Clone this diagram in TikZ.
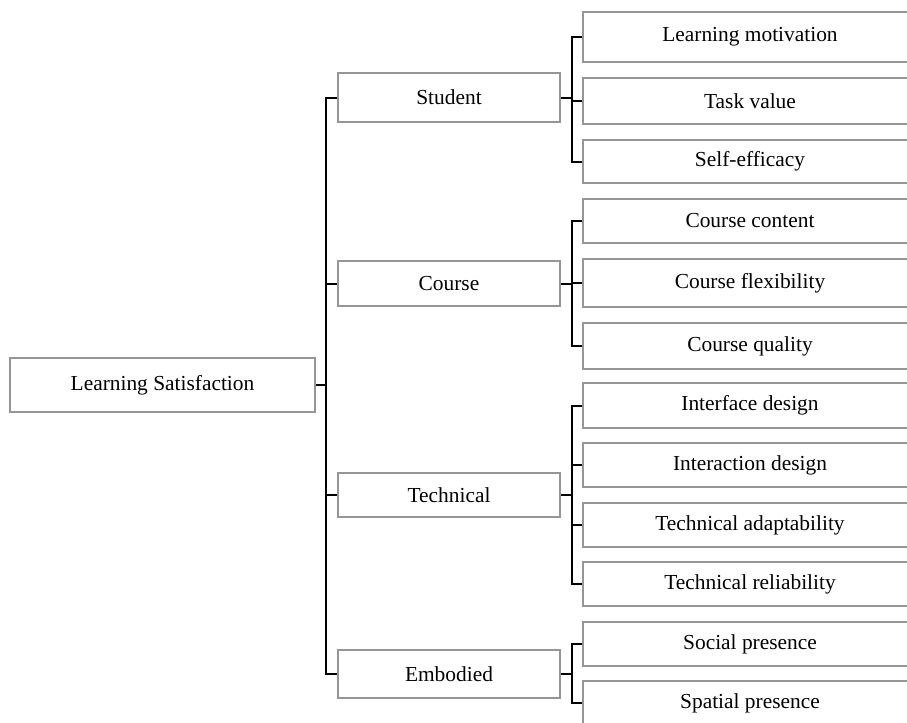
\documentclass[tikz,border=0pt]{standalone}
\usepackage{fontspec}
\setmainfont{Liberation Serif}
\definecolor{boxgray}{RGB}{150,150,150}
\begin{document}
\begin{tikzpicture}[x=0.5pt,y=-0.5pt,
  box/.style={draw=boxgray, line width=0.75pt, inner sep=0pt, align=center,
    font=\fontsize{10.7pt}{13pt}\selectfont},
  rootbox/.style={box, minimum width=152.5pt, minimum height=27pt},
  midbox/.style={box, minimum width=111pt},
  leafbox/.style={box, minimum width=167pt},
  conn/.style={draw=black, line width=1pt}]
\path[use as bounding box, clip] (0,0) rectangle (907,723);
\fill[white] (0,0) rectangle (907,723);

\node[rootbox] (root) at (162.5,385) {Learning Satisfaction};

\node[midbox, minimum height=24.5pt] (student) at (449,97.5) {Student};
\node[midbox, minimum height=22.5pt] (course) at (449,283.5) {Course};
\node[midbox, minimum height=22pt] (technical) at (449,495) {Technical};
\node[midbox, minimum height=24pt] (embodied) at (449,674) {Embodied};

\node[leafbox, minimum height=25pt] (lm) at (750,37) {Learning motivation};
\node[leafbox, minimum height=23pt] (tv) at (750,101) {Task value};
\node[leafbox, minimum height=21.5pt] (se) at (750,161.5) {Self-efficacy};
\node[leafbox, minimum height=22pt] (cc) at (750,221) {Course content};
\node[leafbox, minimum height=24pt] (cf) at (750,283) {Course flexibility};
\node[leafbox, minimum height=23pt] (cq) at (750,346) {Course quality};
\node[leafbox, minimum height=22.5pt] (idd) at (750,405.5) {Interface design};
\node[leafbox, minimum height=22pt] (ixd) at (750,465) {Interaction design};
\node[leafbox, minimum height=22pt] (ta) at (750,525) {Technical adaptability};
\node[leafbox, minimum height=22pt] (tr) at (750,584) {Technical reliability};
\node[leafbox, minimum height=22pt] (sop) at (750,644) {Social presence};
\node[leafbox, minimum height=22pt] (spp) at (750,703) {Spatial presence};

\coordinate (t) at (326,0);
\coordinate (s) at (572,0);

% main trunk
\draw[conn] (root.east) -- (root.east -| t);
\draw[conn] (student.west) -- (student.west -| t) -- (embodied.west -| t) -- (embodied.west);
\draw[conn] (course.west) -- (course.west -| t);
\draw[conn] (technical.west) -- (technical.west -| t);

% student
\draw[conn] (student.east) -- (student.east -| s);
\draw[conn] (lm.west) -- (lm.west -| s) -- (se.west -| s) -- (se.west);
\draw[conn] (tv.west) -- (tv.west -| s);

% course
\draw[conn] (course.east) -- (course.east -| s);
\draw[conn] (cc.west) -- (cc.west -| s) -- (cq.west -| s) -- (cq.west);
\draw[conn] (cf.west) -- (cf.west -| s);

% technical
\draw[conn] (technical.east) -- (technical.east -| s);
\draw[conn] (idd.west) -- (idd.west -| s) -- (tr.west -| s) -- (tr.west);
\draw[conn] (ixd.west) -- (ixd.west -| s);
\draw[conn] (ta.west) -- (ta.west -| s);

% embodied
\draw[conn] (embodied.east) -- (embodied.east -| s);
\draw[conn] (sop.west) -- (sop.west -| s) -- (spp.west -| s) -- (spp.west);
\end{tikzpicture}
\end{document}
